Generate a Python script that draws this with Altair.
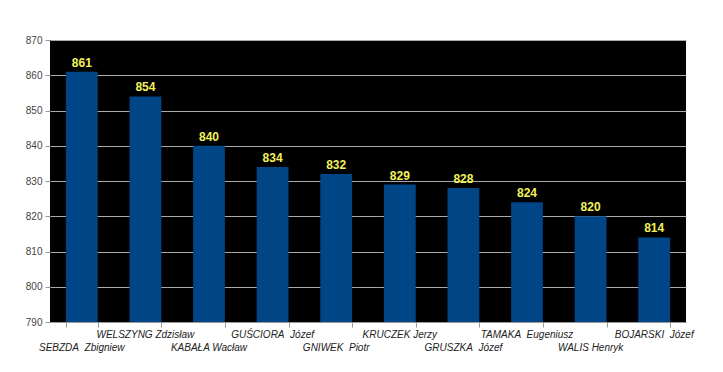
import altair as alt
import pandas as pd

names = ["SEBZDA\u00a0\u00a0Zbigniew", "WELSZYNG Zdzisław", "KABAŁA Wacław",
         "GUŚCIORA\u00a0\u00a0Józef", "GNIWEK\u00a0\u00a0Piotr", "KRUCZEK Jerzy",
         "GRUSZKA\u00a0\u00a0Józef", "TAMAKA\u00a0\u00a0Eugeniusz",
         "WALIS Henryk", "BOJARSKI\u00a0\u00a0Józef"]
values = [861, 854, 840, 834, 832, 829, 828, 824, 820, 814]
rows = [1, 0, 1, 0, 1, 0, 1, 0, 1, 0]
yticks = [790, 800, 810, 820, 830, 840, 850, 860, 870]

df = pd.DataFrame({"name": names, "value": values, "row": rows})

W, H = 636, 282

x = alt.X("name:N", sort=names,
          scale=alt.Scale(paddingInner=0.5, paddingOuter=0.25),
          axis=alt.Axis(title=None, labels=False, ticks=True, tickBand="extent",
                        tickSize=5, tickColor="#999999", domainColor="#999999",
                        grid=False))
y = alt.Y("value:Q", scale=alt.Scale(domain=[790, 870], nice=False, zero=False),
          axis=alt.Axis(title=None, values=yticks, tickSize=5, labelOverlap=False,
                        tickColor="#999999", domain=False, grid=True,
                        gridColor="#aaaaaa", labelColor="#444444",
                        labelFont="Liberation Sans", labelFontSize=10, labelPadding=3))

bars = alt.Chart(df).mark_bar(color="#004586", clip=True).encode(x=x, y=y)

vals = alt.Chart(df).mark_text(color="#f2f25a", font="Liberation Sans", fontSize=12,
                               fontWeight="bold", dy=-9).encode(
    x=x, y=y, text="value:Q")

upper = alt.Chart(df[df.row == 0]).mark_text(
    font="Liberation Sans", fontStyle="italic", fontSize=10, color="#222222",
    baseline="middle").encode(
    x=x, y=alt.value(H + 13), text="name:N")
lower = alt.Chart(df[df.row == 1]).mark_text(
    font="Liberation Sans", fontStyle="italic", fontSize=10, color="#222222",
    baseline="middle").encode(
    x=x, y=alt.value(H + 26), text="name:N")

chart = alt.layer(bars, vals, upper, lower).properties(
    width=W, height=H, autosize=alt.AutoSizeParams(type="none"),
    padding={"left": 42, "top": 32, "right": 21, "bottom": 42},
    background="white"
).configure_view(fill="black", stroke=None)

chart.save("out.html", embed_options={"renderer": "svg", "actions": False})
